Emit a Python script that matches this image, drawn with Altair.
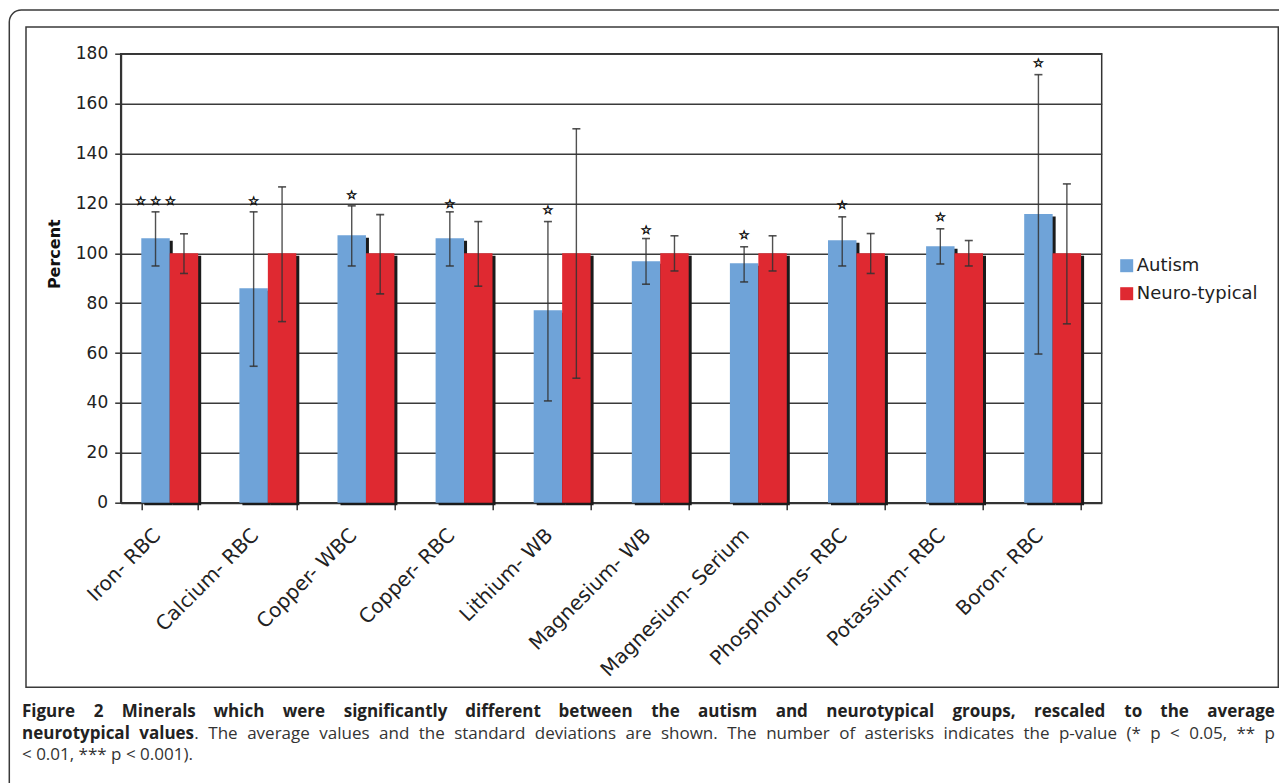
import altair as alt
import pandas as pd

# Minerals, rescaled so the neurotypical average is 100 %
minerals = ["Iron- RBC", "Calcium- RBC", "Copper- WBC", "Copper- RBC", "Lithium- WB",
            "Magnesium- WB", "Magnesium- Serium", "Phosphoruns- RBC", "Potassium- RBC",
            "Boron- RBC"]
groups = ["Autism", "Neuro-typical"]

autism_mean = [106.0, 86.0, 107.2, 106.0, 77.2, 96.8, 96.0, 105.2, 102.8, 115.7]
autism_hi = [116.6, 116.6, 119.0, 116.6, 112.7, 105.9, 102.6, 114.6, 109.8, 171.6]
autism_lo = [94.9, 54.7, 94.9, 94.9, 40.8, 87.6, 88.5, 94.9, 95.7, 59.6]

typical_mean = [100, 100, 100, 100, 100, 100, 100, 100, 100, 100]
typical_hi = [107.8, 126.6, 115.5, 112.7, 149.9, 107.0, 107.0, 107.9, 105.1, 127.8]
typical_lo = [91.9, 72.6, 83.7, 86.8, 49.9, 92.9, 92.9, 91.9, 94.9, 71.7]

# significance asterisks drawn above the autism bars
star_count = [3, 1, 1, 1, 1, 1, 1, 1, 1, 1]
star_level = [120.9, 120.9, 123.3, 119.7, 117.3, 109.5, 107.4, 119.2, 114.6, 176.4]

y_ticks = [0, 20, 40, 60, 80, 100, 120, 140, 160, 180]

caption_1 = ("Figure 2 Minerals which were significantly different between the autism "
             "and neurotypical groups, rescaled to the average")
caption_2_bold = "neurotypical values"
caption_2 = (". The average values and the standard deviations are shown. The number of "
             "asterisks indicates the p-value (* p < 0.05, ** p")
caption_3 = "< 0.01, *** p < 0.001)."

BLUE = "#6FA3D8"
RED = "#DF2931"

rows = []
for i, m in enumerate(minerals):
    rows.append({"mineral": m, "group": "Autism", "mean": autism_mean[i],
                 "hi": autism_hi[i], "lo": autism_lo[i]})
    rows.append({"mineral": m, "group": "Neuro-typical", "mean": typical_mean[i],
                 "hi": typical_hi[i], "lo": typical_lo[i]})
df = pd.DataFrame(rows)

stars = pd.DataFrame({
    "mineral": minerals,
    "group": ["Autism"] * len(minerals),
    "level": star_level,
    "label": [" ".join(["\u2606"] * n) for n in star_count],
})

PLOT_W, PLOT_H = 981, 449
LEFT, TOP = 120.7, 53.7
BAND = PLOT_W / len(minerals)
PAD_IN = 0.42
PAIR_W = BAND * (1 - PAD_IN)

x_enc = alt.X("mineral:N", sort=minerals,
              scale=alt.Scale(paddingInner=PAD_IN, paddingOuter=PAD_IN / 2),
              axis=alt.Axis(title=None, labelAngle=-45, labelFont="DejaVu Sans",
                            labelFontSize=20, labelColor="#222222", tickBand="extent",
                            tickSize=7, tickColor="#333333", tickWidth=1.5,
                            domainColor="#333333", domainWidth=2, labelPadding=15,
                            labelOffset=-20, labelLimit=0, grid=False))
xo_enc = alt.XOffset("group:N", sort=groups,
                     scale=alt.Scale(domain=groups, paddingInner=0, paddingOuter=0))
# the drop shadow sits a few pixels right of each bar
xo_shadow = alt.XOffset("group:N", sort=groups,
                        scale=alt.Scale(domain=groups, range=[3, 3 + PAIR_W],
                                        paddingInner=0, paddingOuter=0))
# text is anchored at the start of its sub-band, so shift it to the bar centre
xo_star = alt.XOffset("group:N", sort=groups,
                      scale=alt.Scale(domain=groups,
                                      range=[PAIR_W / 4, PAIR_W / 4 + PAIR_W],
                                      paddingInner=0, paddingOuter=0))
y_scale = alt.Scale(domain=[0, 180], nice=False)

base = alt.Chart(df)

shadow = base.mark_bar(color="#1b1b1b", yOffset=2.5).encode(
    x=x_enc, xOffset=xo_shadow, y=alt.Y("mean:Q", scale=y_scale))

bars = base.mark_bar().encode(
    x=x_enc, xOffset=xo_enc,
    y=alt.Y("mean:Q", scale=y_scale,
            axis=alt.Axis(values=y_ticks, title="Percent", titleFont="DejaVu Sans",
                          titleFontSize=16, titleFontWeight="bold", titleColor="#111111",
                          titleX=-58, titleY=200, titleAngle=270,
                          labelFont="DejaVu Sans", labelFontSize=17,
                          labelColor="#222222", labelPadding=7, tickSize=6,
                          tickColor="#333333", tickWidth=1.5, domainColor="#333333",
                          domainWidth=2, gridColor="#3a3a3a", gridWidth=1.5)),
    color=alt.Color("group:N", sort=groups,
                    scale=alt.Scale(domain=groups, range=[BLUE, RED]),
                    legend=alt.Legend(title=None, orient="none", legendX=997,
                                      legendY=203, symbolType="square",
                                      symbolSize=169, symbolStrokeWidth=0,
                                      labelFont="DejaVu Sans", labelFontSize=18,
                                      labelColor="#222222", rowPadding=10,
                                      labelOffset=1, padding=0)),
)

err = base.mark_rule(color="#333333", opacity=0.85, strokeWidth=1.4).encode(
    x=x_enc, xOffset=xo_enc, y=alt.Y("lo:Q", scale=y_scale), y2="hi:Q")
cap_hi = base.mark_tick(color="#333333", opacity=0.85, size=8, thickness=1.6,
                        orient="horizontal").encode(
    x=x_enc, xOffset=xo_enc, y=alt.Y("hi:Q", scale=y_scale))
cap_lo = base.mark_tick(color="#333333", opacity=0.85, size=8, thickness=1.6,
                        orient="horizontal").encode(
    x=x_enc, xOffset=xo_enc, y=alt.Y("lo:Q", scale=y_scale))

star_marks = alt.Chart(stars).mark_text(
    font="DejaVu Sans", fontSize=12, fontWeight="bold", color="#111111",
    stroke="#111111", strokeWidth=0.7, baseline="middle", align="center").encode(
    x=x_enc, xOffset=xo_star, y=alt.Y("level:Q", scale=y_scale), text="label:N")

one = pd.DataFrame({"k": [0]})

outer_frame = alt.Chart(one).mark_rect(
    fill=None, stroke="#3a3a3a", strokeWidth=1.5, cornerRadius=12).encode(
    x=alt.value(9.3 - LEFT), x2=alt.value(1300 - LEFT),
    y=alt.value(10 - TOP), y2=alt.value(820 - TOP))

inner_frame = alt.Chart(one).mark_rect(
    fill=None, stroke="#3a3a3a", strokeWidth=1.5).encode(
    x=alt.value(26 - LEFT), x2=alt.value(1278.3 - LEFT),
    y=alt.value(27 - TOP), y2=alt.value(687.3 - TOP))

# ---- justified caption --------------------------------------------------
CAP_FONT = "Open Sans"
CAP_SIZE = 17
REG = {" ": .260, "(": .291, ")": .291, "*": .551, ",": .245, "-": .322, ".": .266,
       "<": .572, "A": .633, "F": .547, "G": .692, "N": .756, "T": .558, "W": .917,
       "a": .556, "b": .613, "c": .476, "d": .613, "e": .561, "f": .339, "g": .548,
       "h": .614, "i": .253, "k": .525, "l": .253, "m": .930, "n": .614, "o": .604,
       "p": .613, "q": .613, "r": .408, "s": .477, "t": .353, "u": .614, "v": .501,
       "w": .778, "x": .524, "y": .502, "z": .477}
BOLD = {" ": .260, ",": .280, ".": .290, "F": .561, "M": .886, "a": .605, "b": .635,
        "c": .519, "d": .635, "e": .600, "f": .368, "g": .561, "h": .660, "i": .303,
        "k": .600, "l": .303, "m": .990, "n": .660, "o": .623, "p": .635, "r": .455,
        "s": .510, "t": .420, "u": .660, "v": .562, "w": .851, "y": .562, "z": .500}


def text_width(s, bold):
    table = BOLD if bold else REG
    return CAP_SIZE * sum(table.get(ch, 0.572) for ch in s)


def justify(tokens, x0, x1):
    """tokens: (text, bold, space_before). Returns (text, bold, x) with the
    inter-word gaps stretched so the line runs from x0 to x1."""
    widths = [text_width(t, b) for t, b, _ in tokens]
    n_gaps = sum(1 for _, _, sp in tokens[1:] if sp)
    gap = (x1 - x0 - sum(widths)) / n_gaps
    out, x = [], x0
    for (t, b, sp), w in zip(tokens, widths):
        if sp and out:
            x += gap
        out.append((t, b, x))
        x += w
    return out


tok1 = [(w, True, True) for w in caption_1.split(" ")]
tok2 = [(w, True, True) for w in caption_2_bold.split(" ")]
rest = caption_2.split(" ")
tok2.append((rest[0], False, False))
tok2 += [(w, False, True) for w in rest[1:]]

cap_rows = []
for t, b, x in justify(tok1, 22, 1275):
    cap_rows.append({"t": t, "w": "bold" if b else "normal", "x": x - LEFT, "y": 717 - TOP})
for t, b, x in justify(tok2, 22, 1275):
    cap_rows.append({"t": t, "w": "bold" if b else "normal", "x": x - LEFT, "y": 739 - TOP})
cap_df = pd.DataFrame(cap_rows)

cap_bold = alt.Chart(cap_df).transform_filter(alt.datum.w == "bold").mark_text(
    font=CAP_FONT, fontSize=CAP_SIZE, fontWeight="bold", color="#222222",
    align="left", baseline="alphabetic").encode(
    x=alt.X("x:Q", scale=None), y=alt.Y("y:Q", scale=None), text="t:N")
cap_reg = alt.Chart(cap_df).transform_filter(alt.datum.w == "normal").mark_text(
    font=CAP_FONT, fontSize=CAP_SIZE, color="#333333",
    align="left", baseline="alphabetic").encode(
    x=alt.X("x:Q", scale=None), y=alt.Y("y:Q", scale=None), text="t:N")
line3 = alt.Chart(one).mark_text(
    font=CAP_FONT, fontSize=CAP_SIZE, color="#333333",
    align="left", baseline="alphabetic", text=caption_3).encode(
    x=alt.value(22 - LEFT), y=alt.value(760 - TOP))

chart = alt.layer(
    outer_frame, inner_frame, shadow, bars, err, cap_hi, cap_lo, star_marks,
    cap_bold, cap_reg, line3,
).resolve_scale(
    xOffset="independent"
).properties(
    width=PLOT_W, height=PLOT_H,
    autosize=alt.AutoSizeParams(type="none"),
    padding={"left": LEFT, "top": TOP, "right": 1279 - LEFT - PLOT_W,
             "bottom": 783 - TOP - PLOT_H},
    background="white",
).configure_view(stroke="#333333", strokeWidth=1.5)

chart.save("out.html", embed_options={"renderer": "svg", "actions": False})
